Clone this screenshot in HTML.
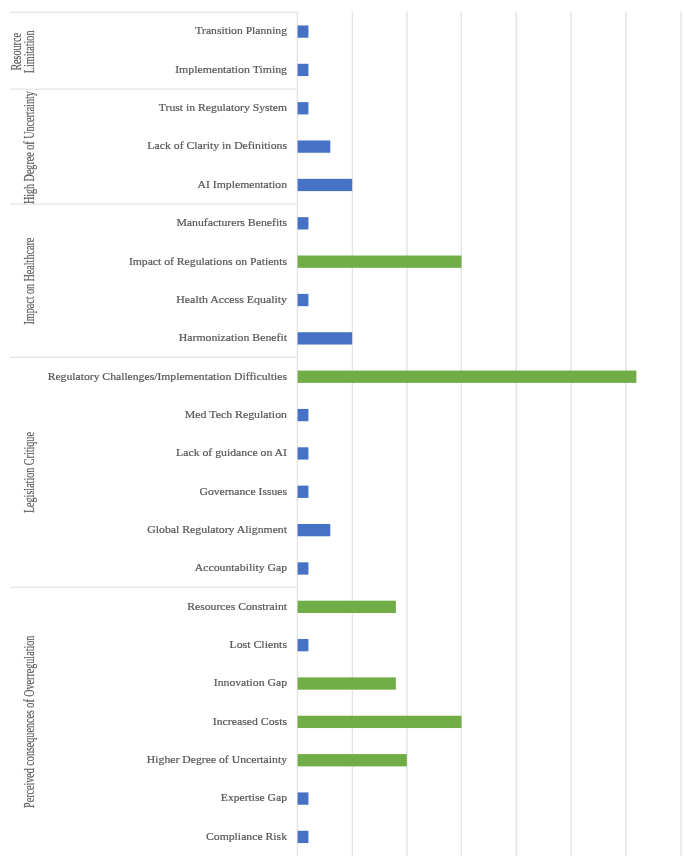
<!DOCTYPE html><html><head><meta charset="utf-8"><title>Chart</title><style>html,body{margin:0;padding:0;background:#fff}svg{display:block;will-change:transform}text{font-family:"Liberation Serif",serif;fill:#595959;stroke:#595959;stroke-width:0.22px}text.v{stroke-width:0.12px}</style></head><body>
<svg width="685" height="856" viewBox="0 0 685 856">
<rect width="685" height="856" fill="#fff"/>
<defs><filter id="sb" x="-5%" y="-5%" width="110%" height="110%"><feGaussianBlur stdDeviation="0.35"/></filter></defs>
<line x1="297.40" y1="11.80" x2="297.40" y2="856" stroke="#E4E4E4" stroke-width="1.4"/>
<line x1="352.40" y1="11.80" x2="352.40" y2="856" stroke="#E4E4E4" stroke-width="1.4"/>
<line x1="406.95" y1="11.80" x2="406.95" y2="856" stroke="#E4E4E4" stroke-width="1.4"/>
<line x1="461.35" y1="11.80" x2="461.35" y2="856" stroke="#E4E4E4" stroke-width="1.4"/>
<line x1="516.30" y1="11.80" x2="516.30" y2="856" stroke="#E4E4E4" stroke-width="1.4"/>
<line x1="571.10" y1="11.80" x2="571.10" y2="856" stroke="#E4E4E4" stroke-width="1.4"/>
<line x1="626.00" y1="11.80" x2="626.00" y2="856" stroke="#E4E4E4" stroke-width="1.4"/>
<line x1="681.00" y1="11.80" x2="681.00" y2="856" stroke="#E4E4E4" stroke-width="1.4"/>
<line x1="10" y1="12.40" x2="297.50" y2="12.40" stroke="#E4E4E4" stroke-width="1.3"/>
<line x1="10" y1="89.06" x2="297.50" y2="89.06" stroke="#E4E4E4" stroke-width="1.3"/>
<line x1="10" y1="204.05" x2="297.50" y2="204.05" stroke="#E4E4E4" stroke-width="1.3"/>
<line x1="10" y1="357.37" x2="297.50" y2="357.37" stroke="#E4E4E4" stroke-width="1.3"/>
<line x1="10" y1="587.35" x2="297.50" y2="587.35" stroke="#E4E4E4" stroke-width="1.3"/>
<g filter="url(#sb)">
<rect x="297.60" y="25.43" width="10.83" height="12.30" fill="#4472C4"/>
<text transform="translate(287.00 34.43) scale(1.0580 1)" font-size="11" text-anchor="end">Transition Planning</text>
<rect x="297.60" y="63.78" width="10.83" height="12.30" fill="#4472C4"/>
<text transform="translate(287.00 72.78) scale(1.0735 1)" font-size="11" text-anchor="end">Implementation Timing</text>
<rect x="297.60" y="102.12" width="10.83" height="12.30" fill="#4472C4"/>
<text transform="translate(287.00 111.12) scale(1.0613 1)" font-size="11" text-anchor="end">Trust in Regulatory System</text>
<rect x="297.60" y="140.47" width="32.69" height="12.30" fill="#4472C4"/>
<text transform="translate(287.00 149.47) scale(1.0688 1)" font-size="11" text-anchor="end">Lack of Clarity in Definitions</text>
<rect x="297.60" y="178.83" width="54.55" height="12.30" fill="#4472C4"/>
<text transform="translate(287.00 187.83) scale(1.0652 1)" font-size="11" text-anchor="end">AI Implementation</text>
<rect x="297.60" y="217.18" width="10.83" height="12.30" fill="#4472C4"/>
<text transform="translate(287.00 226.18) scale(1.0697 1)" font-size="11" text-anchor="end">Manufacturers Benefits</text>
<rect x="297.60" y="255.53" width="163.85" height="12.30" fill="#70AD47"/>
<text transform="translate(287.00 264.53) scale(1.0620 1)" font-size="11" text-anchor="end">Impact of Regulations on Patients</text>
<rect x="297.60" y="293.88" width="10.83" height="12.30" fill="#4472C4"/>
<text transform="translate(287.00 302.88) scale(1.0796 1)" font-size="11" text-anchor="end">Health Access Equality</text>
<rect x="297.60" y="332.23" width="54.55" height="12.30" fill="#4472C4"/>
<text transform="translate(287.00 341.23) scale(1.0720 1)" font-size="11" text-anchor="end">Harmonization Benefit</text>
<rect x="297.60" y="370.57" width="338.73" height="12.30" fill="#70AD47"/>
<text transform="translate(287.00 379.57) scale(1.0607 1)" font-size="11" text-anchor="end">Regulatory Challenges/Implementation Difficulties</text>
<rect x="297.60" y="408.93" width="10.83" height="12.30" fill="#4472C4"/>
<text transform="translate(287.00 417.93) scale(1.0771 1)" font-size="11" text-anchor="end">Med Tech Regulation</text>
<rect x="297.60" y="447.28" width="10.83" height="12.30" fill="#4472C4"/>
<text transform="translate(287.00 456.28) scale(1.0697 1)" font-size="11" text-anchor="end">Lack of guidance on AI</text>
<rect x="297.60" y="485.62" width="10.83" height="12.30" fill="#4472C4"/>
<text transform="translate(287.00 494.62) scale(1.0580 1)" font-size="11" text-anchor="end">Governance Issues</text>
<rect x="297.60" y="523.98" width="32.69" height="12.30" fill="#4472C4"/>
<text transform="translate(287.00 532.98) scale(1.0687 1)" font-size="11" text-anchor="end">Global Regulatory Alignment</text>
<rect x="297.60" y="562.33" width="10.83" height="12.30" fill="#4472C4"/>
<text transform="translate(287.00 571.33) scale(1.0673 1)" font-size="11" text-anchor="end">Accountability Gap</text>
<rect x="297.60" y="600.68" width="98.27" height="12.30" fill="#70AD47"/>
<text transform="translate(287.00 609.68) scale(1.0645 1)" font-size="11" text-anchor="end">Resources Constraint</text>
<rect x="297.60" y="639.02" width="10.83" height="12.30" fill="#4472C4"/>
<text transform="translate(287.00 648.02) scale(1.0770 1)" font-size="11" text-anchor="end">Lost Clients</text>
<rect x="297.60" y="677.38" width="98.27" height="12.30" fill="#70AD47"/>
<text transform="translate(287.00 686.38) scale(1.0668 1)" font-size="11" text-anchor="end">Innovation Gap</text>
<rect x="297.60" y="715.73" width="163.85" height="12.30" fill="#70AD47"/>
<text transform="translate(287.00 724.73) scale(1.0725 1)" font-size="11" text-anchor="end">Increased Costs</text>
<rect x="297.60" y="754.08" width="109.20" height="12.30" fill="#70AD47"/>
<text transform="translate(287.00 763.08) scale(1.0657 1)" font-size="11" text-anchor="end">Higher Degree of Uncertainty</text>
<rect x="297.60" y="792.43" width="10.83" height="12.30" fill="#4472C4"/>
<text transform="translate(287.00 801.43) scale(1.0580 1)" font-size="11" text-anchor="end">Expertise Gap</text>
<rect x="297.60" y="830.77" width="10.83" height="12.30" fill="#4472C4"/>
<text transform="translate(287.00 839.77) scale(1.0659 1)" font-size="11" text-anchor="end">Compliance Risk</text>
<text class="v" transform="translate(20.90 51.85) rotate(-90) scale(1 1.35)" font-size="10.1" text-anchor="middle">Resource</text>
<text class="v" transform="translate(34.10 51.85) rotate(-90) scale(1 1.35)" font-size="10.1" text-anchor="middle">Limitation</text>
<text class="v" transform="translate(34.10 147.65) rotate(-90) scale(1 1.35)" font-size="10.1" text-anchor="middle">High Degree of Uncertainty</text>
<text class="v" transform="translate(34.10 281.15) rotate(-90) scale(1 1.35)" font-size="10.1" text-anchor="middle">Impact on Healthcare</text>
<text class="v" transform="translate(34.10 472.60) rotate(-90) scale(1 1.35)" font-size="10.1" text-anchor="middle">Legislation Critique</text>
<text class="v" transform="translate(34.10 721.80) rotate(-90) scale(1 1.35)" font-size="10.1" text-anchor="middle">Perceived consequences of Overregulation</text>
</g>
</svg></body></html>
